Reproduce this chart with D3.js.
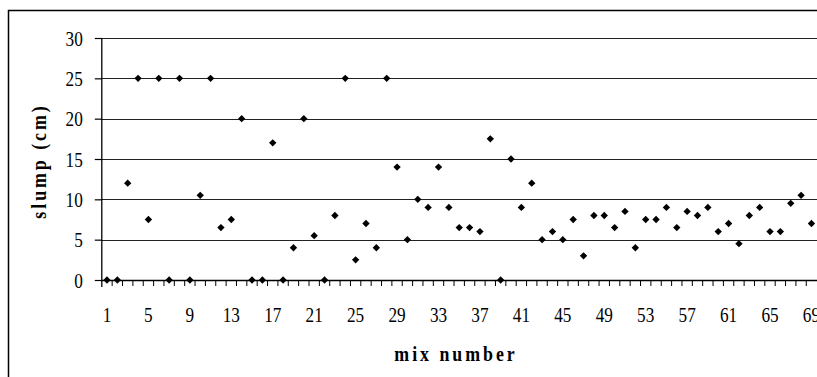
<!DOCTYPE html>
<html><head><meta charset="utf-8">
<script src="https://cdn.jsdelivr.net/npm/d3@7"></script>
<style>
html,body{margin:0;padding:0;background:#fff;overflow:hidden;}
svg{display:block;}
</style></head>
<body>
<script>
const mixNumbers = d3.range(1, 70);
const slump = [0,0,12,25,7.5,25,0,25,0,10.5,
  25,6.5,7.5,20,0,0,17,0,4,20,
  5.5,0,8,25,2.5,7,4,25,14,5,
  10,9,14,9,6.5,6.5,6,17.5,0,15,
  9,12,5,6,5,7.5,3,8,8,6.5,
  8.5,4,7.5,7.5,9,6.5,8.5,8,9,6,
  7,4.5,8,9,6,6,9.5,10.5,7];
const yTicks = [0,5,10,15,20,25,30];
const xTickLabels = [1,5,9,13,17,21,25,29,33,37,41,45,49,53,57,61,65,69];

const W = 817, H = 377;
const svg = d3.select("body").append("svg").attr("width", W).attr("height", H);

const left = 101.8, step = 10.36;
const x = d3.scaleBand().domain(mixNumbers).range([left, left + step * mixNumbers.length]).paddingInner(0).paddingOuter(0);
const y = d3.scaleLinear().domain([0, 30]).range([280, 38]);

// outer border (chart area, cut at right/bottom)
svg.append("path").attr("d", `M8.5,${H+2} L8.5,10.5 L${W+2},10.5`)
  .attr("fill", "none").attr("stroke", "#000").attr("stroke-width", 1.5);

// gridlines
svg.append("g").selectAll("line").data(yTicks.filter(d => d > 0)).join("line")
  .attr("x1", left).attr("x2", W + 2)
  .attr("y1", d => Math.round(y(d)) + 0.5).attr("y2", d => Math.round(y(d)) + 0.5)
  .attr("stroke", "#222").attr("stroke-width", 1.2);

// y axis
const yAxis = d3.axisLeft(y).tickValues(yTicks).tickSize(7).tickPadding(0).tickFormat(d3.format("d"));
const gy = svg.append("g").attr("transform", `translate(${left},0)`).call(yAxis);
gy.select(".domain").attr("d", `M0,${y(30)}V${y(0) + 7}`).attr("stroke", "#000").attr("stroke-width", 1.3);
gy.selectAll(".tick line").attr("stroke", "#000").attr("stroke-width", 1.2);
gy.selectAll(".tick text").remove();
gy.selectAll(".tick").append("text")
  .attr("text-anchor", "end")
  .attr("transform", "translate(-19,7) scale(0.82,1)")
  .attr("font-family", "'Liberation Serif','Times New Roman',serif")
  .attr("font-size", 21).attr("fill", "#000")
  .text(d => d);

// x axis line + ticks between categories
const gx = svg.append("g");
gx.append("line").attr("x1", left).attr("x2", W + 2)
  .attr("y1", Math.round(y(0)) + 0.5).attr("y2", Math.round(y(0)) + 0.5)
  .attr("stroke", "#000").attr("stroke-width", 1.3);
gx.selectAll("line.tk").data(mixNumbers.slice(1)).join("line").attr("class", "tk")
  .attr("x1", d => x(d)).attr("x2", d => x(d))
  .attr("y1", y(0)).attr("y2", y(0) + 6)
  .attr("stroke", "#000").attr("stroke-width", 1);

const xAxis = d3.axisBottom(x).tickValues(xTickLabels).tickSize(0).tickPadding(0);
const gxa = svg.append("g").attr("transform", `translate(0,${y(0)})`).call(xAxis);
gxa.select(".domain").remove();
gxa.selectAll(".tick text").remove();
gxa.selectAll(".tick").append("text")
  .attr("text-anchor", "middle")
  .attr("transform", "translate(0,42) scale(0.82,1)")
  .attr("font-family", "'Liberation Serif','Times New Roman',serif")
  .attr("font-size", 21).attr("fill", "#000")
  .text(d => d);

// points (square diamonds)
const sym = d3.symbol().type(d3.symbolSquare).size(27);
svg.append("g").selectAll("path").data(mixNumbers).join("path")
  .attr("d", sym)
  .attr("transform", (d, i) => `translate(${x(d) + x.bandwidth() / 2},${y(slump[i])}) rotate(45)`)
  .attr("fill", "#000");

// axis titles
svg.append("text")
  .attr("transform", `translate(456,361) scale(0.85,1)`)
  .attr("text-anchor", "middle")
  .attr("font-family", "'Liberation Serif','Times New Roman',serif")
  .attr("font-weight", "bold").attr("font-size", 21).attr("letter-spacing", 3.5)
  .attr("fill", "#000").text("mix number");

svg.append("text")
  .attr("transform", `translate(46,161) rotate(-90) scale(0.85,1)`)
  .attr("text-anchor", "middle")
  .attr("font-family", "'Liberation Serif','Times New Roman',serif")
  .attr("font-weight", "bold").attr("font-size", 21).attr("letter-spacing", 3.5)
  .attr("fill", "#000").text("slump (cm)");
</script>
</body></html>
